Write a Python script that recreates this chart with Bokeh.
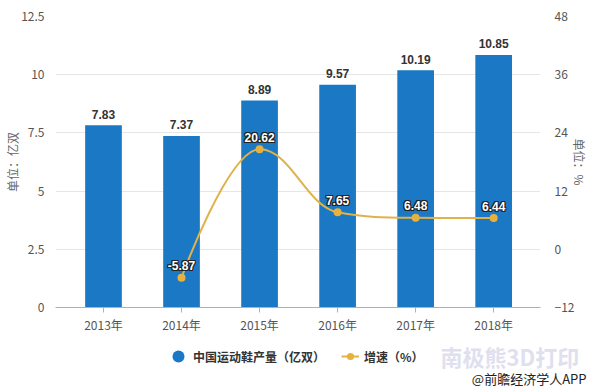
from bokeh.plotting import figure
from bokeh.layouts import column
from bokeh.models import (Range1d, LinearAxis, FixedTicker, ColumnDataSource,
                          Legend, LegendItem, Label)
from bokeh.core.properties import value
from bokeh.embed import file_html
from bokeh.resources import INLINE
import math

# ---- data ----
years = ["2013年", "2014年", "2015年", "2016年", "2017年", "2018年"]
output = [7.83, 7.37, 8.89, 9.57, 10.19, 10.85]          # 亿双
growth = [None, -5.87, 20.62, 7.65, 6.48, 6.44]          # %
left_ticks = [0, 2.5, 5, 7.5, 10, 12.5]
left_tick_labels = ["0", "2.5", "5", "7.5", "10", "12.5"]
right_ticks = [-12, 0, 12, 24, 36, 48]
series_names = ["中国运动鞋产量（亿双）", "增速（%）"]

BAR = "#1a78c4"
LINE = "#e0b24a"
MARK = "#e8b13d"
CJK = "Noto Sans CJK SC"
LAT = "Liberation Sans"

xs = list(range(len(years)))

W, H1, H2 = 591, 335, 54

p = figure(width=W, height=H1, output_backend="svg", toolbar_location=None,
           x_range=Range1d(-0.615, 5.6), y_range=Range1d(0, 12.5),
           min_border_left=55, min_border_right=51, min_border_top=16,
           min_border_bottom=27)
p.outline_line_color = None
p.xgrid.grid_line_color = None
p.ygrid.grid_line_color = "#e6e6e6"
p.ygrid.ticker = FixedTicker(ticks=left_ticks)

p.extra_y_ranges = {"right": Range1d(-12, 48)}

# x axis
xa = p.xaxis[0]
xa.ticker = FixedTicker(ticks=xs)
xa.major_label_overrides = {i: y for i, y in zip(xs, years)}
xa.axis_line_color = "#b0b0b0"
xa.major_tick_line_color = "#b0b0b0"
xa.major_tick_out = 5
xa.major_tick_in = 0
xa.minor_tick_line_color = None
xa.major_label_standoff = 3
xa.major_label_text_font = CJK
xa.major_label_text_font_size = "12px"
xa.major_label_text_color = "#555555"

# left axis
ya = p.yaxis[0]
ya.ticker = FixedTicker(ticks=left_ticks)
ya.major_label_overrides = {t: s for t, s in zip(left_ticks, left_tick_labels)}
ya.axis_line_color = None
ya.major_tick_line_color = None
ya.minor_tick_line_color = None
ya.major_label_standoff = 5
ya.major_label_text_font = CJK
ya.major_label_text_font_size = "12px"
ya.major_label_text_color = "#555555"
ya.axis_label = "单位：亿双"
ya.axis_label_text_font = CJK
ya.axis_label_text_font_size = "12px"
ya.axis_label_text_font_style = "normal"
ya.axis_label_text_color = "#666666"
ya.axis_label_standoff = -3

# right axis
ra = LinearAxis(y_range_name="right", ticker=FixedTicker(ticks=right_ticks))
ra.axis_line_color = None
ra.major_tick_line_color = None
ra.minor_tick_line_color = None
ra.major_label_standoff = 8
ra.major_label_text_font = CJK
ra.major_label_text_font_size = "12px"
ra.major_label_text_color = "#555555"
ra.axis_label = "单位：%"
ra.axis_label_text_font = CJK
ra.axis_label_text_font_size = "12px"
ra.axis_label_text_font_style = "normal"
ra.axis_label_text_color = "#666666"
ra.axis_label_standoff = -6
p.add_layout(ra, "right")

# bars
bar_src = ColumnDataSource(dict(x=xs, top=output,
                                lbl=[f"{v:.2f}" for v in output]))
p.vbar(x="x", top="top", width=0.47, source=bar_src, fill_color=BAR,
       line_color=None)
p.text(x="x", y="top", text="lbl", source=bar_src, y_offset=-11,
       text_align="center", text_baseline="middle", text_color="#333333",
       text_font=value(LAT), text_font_style="bold", text_font_size="12px")

# spline (Highcharts-style bezier control points computed from the data)
gx = [x for x, g in zip(xs, growth) if g is not None]
gy = [g for g in growth if g is not None]
n = len(gx)
lc = [None] * n
rc = [None] * n
sm, den = 1.5, 2.5
for i in range(1, n - 1):
    lx, ly, px, py, nx, ny = gx[i-1], gy[i-1], gx[i], gy[i], gx[i+1], gy[i+1]
    lcx = (sm * px + lx) / den
    lcy = (sm * py + ly) / den
    rcx = (sm * px + nx) / den
    rcy = (sm * py + ny) / den
    corr = (rcy - lcy) * (rcx - px) / (rcx - lcx) + py - rcy
    lcy += corr
    rcy += corr
    if lcy > ly and lcy > py:
        lcy = max(ly, py); rcy = 2 * py - lcy
    elif lcy < ly and lcy < py:
        lcy = min(ly, py); rcy = 2 * py - lcy
    if rcy > ny and rcy > py:
        rcy = max(ny, py); lcy = 2 * py - rcy
    elif rcy < ny and rcy < py:
        rcy = min(ny, py); lcy = 2 * py - rcy
    lc[i] = (lcx, lcy)
    rc[i] = (rcx, rcy)

seg = dict(x0=[], y0=[], x1=[], y1=[], cx0=[], cy0=[], cx1=[], cy1=[])
for i in range(1, n):
    c0 = rc[i-1] if rc[i-1] else (gx[i-1], gy[i-1])
    c1 = lc[i] if lc[i] else (gx[i], gy[i])
    seg["x0"].append(gx[i-1]); seg["y0"].append(gy[i-1])
    seg["x1"].append(gx[i]); seg["y1"].append(gy[i])
    seg["cx0"].append(c0[0]); seg["cy0"].append(c0[1])
    seg["cx1"].append(c1[0]); seg["cy1"].append(c1[1])
p.bezier(x0="x0", y0="y0", x1="x1", y1="y1", cx0="cx0", cy0="cy0",
         cx1="cx1", cy1="cy1", source=ColumnDataSource(seg),
         line_color=LINE, line_width=2, y_range_name="right")

g_src = ColumnDataSource(dict(x=gx, y=gy, lbl=[f"{v:.2f}" for v in gy]))
p.scatter(x="x", y="y", source=g_src, size=8, fill_color=MARK,
          line_color=None, y_range_name="right")

# outlined labels for the growth line
for dx, dy in [(-1, -1), (0, -1), (1, -1), (-1, 0), (1, 0), (-1, 1), (0, 1), (1, 1)]:
    p.text(x="x", y="y", text="lbl", source=g_src, x_offset=dx, y_offset=-12 + dy,
           text_align="center", text_baseline="middle", text_color="#222222",
           text_font=value(LAT), text_font_style="bold", text_font_size="12px",
           y_range_name="right")
p.text(x="x", y="y", text="lbl", source=g_src, y_offset=-12,
       text_align="center", text_baseline="middle", text_color="white",
       text_font=value(LAT), text_font_style="bold", text_font_size="12px",
       y_range_name="right")

# ---- bottom strip: legend, watermark, source ----
q = figure(width=W, height=H2, output_backend="svg", toolbar_location=None,
           x_range=Range1d(0, W), y_range=Range1d(0, H2),
           x_axis_type=None, y_axis_type=None, min_border=0,
           min_border_left=0, min_border_right=0, min_border_top=0,
           min_border_bottom=0)
q.outline_line_color = None
q.xgrid.grid_line_color = None
q.ygrid.grid_line_color = None
for fig in (p, q):
    if "frame_align" in fig.properties():
        fig.frame_align = False

leg_bar = q.scatter(x=[math.nan], y=[math.nan], marker="circle",
                    fill_color=BAR, line_color=None)
leg_line = q.line(x=[math.nan, math.nan], y=[math.nan, math.nan],
                  line_color=LINE, line_width=2)
leg_mark = q.scatter(x=[math.nan], y=[math.nan], marker="circle",
                     fill_color=MARK, line_color=None)

common = dict(padding=0, margin=0, spacing=0, background_fill_alpha=0,
              border_line_color=None, label_text_font=CJK,
              label_text_font_size="12px", label_text_font_style="bold",
              label_text_color="#333333")
leg1 = Legend(items=[LegendItem(label=series_names[0], renderers=[leg_bar])],
              location=(163, 18), glyph_width=30, glyph_height=30,
              label_standoff=0, **common)
leg2 = Legend(items=[LegendItem(label=series_names[1], renderers=[leg_line, leg_mark])],
              location=(341, 23), glyph_width=18, glyph_height=20,
              label_standoff=5, **common)
q.add_layout(leg1)
q.add_layout(leg2)

q.add_layout(Label(x=440, y=34, text="南极熊3D打印", text_font=CJK,
                   text_font_size="22px", text_font_style="bold",
                   text_color="#dfe0ef", text_align="left",
                   text_baseline="middle"))
q.add_layout(Label(x=586, y=11, text="@前瞻经济学人APP", text_font=CJK,
                   text_font_size="13px", text_color="#222222",
                   text_align="right", text_baseline="middle"))

open("out.html", "w").write(file_html(column(p, q), INLINE))
